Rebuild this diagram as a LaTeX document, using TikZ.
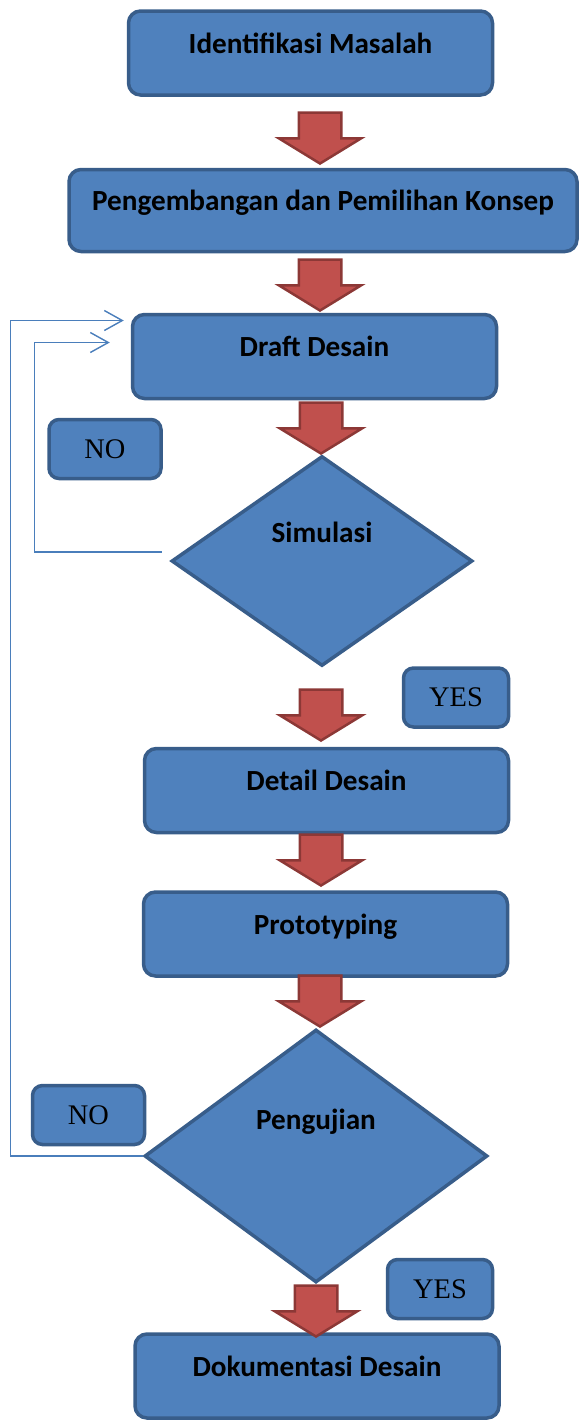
\documentclass[tikz,border=0pt]{standalone}
\usepackage{fontspec}
\setmainfont{Carlito}
\newfontfamily\timesfont{Liberation Serif}
\usetikzlibrary{shapes.geometric,shapes.arrows,arrows.meta}

\definecolor{boxfill}{HTML}{4F81BD}
\definecolor{boxline}{HTML}{385D8A}
\definecolor{arrfill}{HTML}{C0504D}
\definecolor{arrline}{HTML}{8C3836}
\definecolor{loopline}{HTML}{4A7EBB}

\tikzset{
  stage/.style={draw=boxline,fill=boxfill,line width=1.75pt,rounded corners=6pt,
    minimum width=182pt,minimum height=42pt,inner sep=0pt,
    font=\fontsize{14.6}{17}\selectfont\bfseries,text height=6pt,text depth=6pt},
  test/.style={diamond,draw=boxline,fill=boxfill,line width=1.75pt,inner sep=0pt},
  dtext/.style={font=\fontsize{14.6}{17}\selectfont\bfseries},
  answer/.style={draw=boxline,fill=boxfill,line width=1.75pt,rounded corners=5pt,
    minimum width=56pt,minimum height=29.5pt,font=\timesfont\fontsize{14.2}{17}\selectfont},
  flow/.style={single arrow,rotate=-90,draw=arrline,fill=arrfill,line width=1.25pt,
    minimum height=25.5pt,minimum width=40pt,inner sep=0pt,inner ysep=10pt,
    single arrow head extend=10pt,single arrow tip angle=117,anchor=tip},
  feedback/.style={draw=loopline,line width=0.7pt,-{Straight Barb[length=9pt,width=10pt]}}
}

\begin{document}
\begin{tikzpicture}[x=0.5pt,y=-0.5pt]
  \useasboundingbox (0,0) rectangle (581,1421);

  \draw (310.5,53) node[stage] (idm) {Identifikasi Masalah};
  \draw (323,210.5) node[stage,minimum width=254pt,minimum height=41pt] (pdk) {Pengembangan dan Pemilihan Konsep};
  \draw (314.5,356.5) node[stage] (dd) {Draft Desain};
  \draw (322,561) node[test,minimum width=150.5pt,minimum height=105pt,
     label={[dtext,yshift=14.25pt]center:Simulasi}] (sim) {};
  \draw (326.5,790.5) node[stage] (det) {Detail Desain};
  \draw (325.5,934) node[stage] (pro) {Prototyping};
  \draw (316,1156) node[test,minimum width=171.5pt,minimum height=126.5pt,
     label={[dtext,yshift=17pt]center:Pengujian}] (uji) {};
  \draw (317,1376) node[stage] (dok) {Dokumentasi Desain};

  \draw (105,449) node[answer] (no1) {NO};
  \draw (456,697.5) node[answer,minimum width=52.5pt] (yes1) {YES};
  \draw (88.5,1115) node[answer] (no2) {NO};
  \draw (440,1289) node[answer,minimum width=52.5pt] (yes2) {YES};

  \draw (320,165) node[flow] (a1) {};
  \draw (320,312) node[flow] (a2) {};
  \draw (321,455) node[flow] (a3) {};
  \draw (321,742) node[flow] (a4) {};
  \draw (321,887) node[flow] (a5) {};
  \draw (320,1028) node[flow] (a6) {};
  \draw (316,1338) node[flow] (a7) {};

  \draw[feedback] ([shift={(-8,-9)}]sim.west) -- ++(-127,0) |- ([shift={(-21,-14)}]dd.west);
  \draw[feedback] (uji.west) -- ++(-132,0) |- ([shift={(-7,-36)}]dd.west);
\end{tikzpicture}
\end{document}
